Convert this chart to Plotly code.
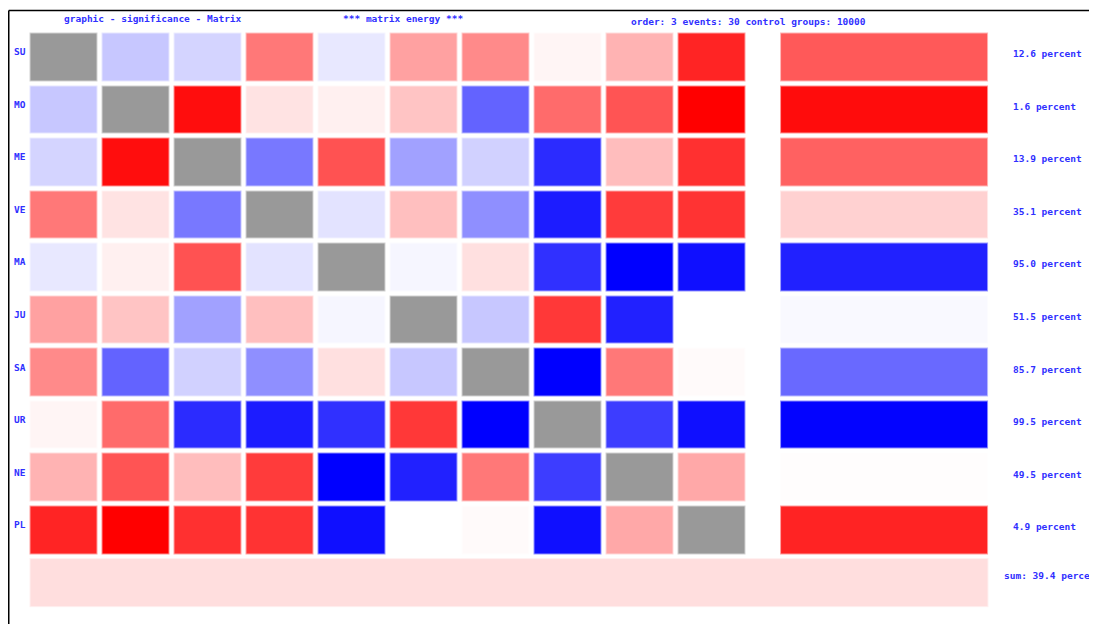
"""
Significance matrix of planet pairs, drawn as a red/white/blue heatmap
with a per-row summary bar and an overall sum bar.
"""

import plotly.graph_objects as go

# the page puts the figure 8 px in from the top-left corner,
# so the figure is 8 px smaller and all positions are 8 px less
OFF = 8
W, H = 1097 - OFF, 624 - OFF

planets = ["SU", "MO", "ME", "VE", "MA", "JU", "SA", "UR", "NE", "PL"]

# pair significance: -1 = strong red ... 0 = white ... +1 = strong blue, None = diagonal
sig = [
    [None, 0.22, 0.17, -0.53, 0.09, -0.37, -0.46, -0.04, -0.30, -0.86],
    [0.22, None, -0.95, -0.11, -0.06, -0.23, 0.61, -0.58, -0.67, -1.0],
    [0.17, -0.95, None, 0.53, -0.68, 0.37, 0.18, 0.83, -0.26, -0.81],
    [-0.53, -0.11, 0.53, None, 0.11, -0.25, 0.44, 0.89, -0.77, -0.80],
    [0.09, -0.06, -0.68, 0.11, None, 0.035, -0.12, 0.81, 1.0, 0.94],
    [-0.37, -0.23, 0.37, -0.25, 0.035, None, 0.22, -0.78, 0.87, 0.0],
    [-0.46, 0.61, 0.18, 0.44, -0.12, 0.22, None, 1.0, -0.53, -0.02],
    [-0.04, -0.58, 0.83, 0.89, 0.81, -0.78, 1.0, None, 0.76, 0.94],
    [-0.30, -0.67, -0.26, -0.77, 1.0, 0.87, -0.53, 0.76, None, -0.34],
    [-0.86, -1.0, -0.81, -0.80, 0.94, 0.0, -0.02, 0.94, -0.34, None],
]

row_percent = [12.6, 1.6, 13.9, 35.1, 95.0, 51.5, 85.7, 99.5, 49.5, 4.9]
sum_percent = 39.4

title_left = "graphic - significance - Matrix"
title_mid = "*** matrix energy ***"
title_right = "order: 3 events: 30 control groups: 10000"

# colour scales
sig_scale = [[0, "rgb(255,0,0)"], [0.5, "rgb(255,255,255)"], [1, "rgb(0,0,255)"]]
pct_scale = [
    [0.0, "rgb(255,0,0)"],
    [0.05, "rgb(255,36,36)"],
    [0.13, "rgb(255,92,92)"],
    [0.35, "rgb(255,209,209)"],
    [0.5, "rgb(255,255,255)"],
    [0.86, "rgb(104,104,255)"],
    [0.95, "rgb(33,33,255)"],
    [1.0, "rgb(0,0,255)"],
]
gray_scale = [[0, "#999999"], [1, "#999999"]]

TEXT = dict(family="DejaVu Sans Mono", size=9.5, color="#3030ff", weight="bold")

# geometry (column units of 72 px, row units of 52.56 px)
COL_PX, ROW_PX = 72.0, 52.56
X0_PX, Y0_PX = 63.5 - OFF, 56.75 - OFF
RIGHT_EDGES = [9.924, 12.868]
SUM_EDGES = [-0.5, 12.868]


def cells(z, x, y, scale, zmin, zmax):
    # a pale outer layer plus a solid inner layer gives each cell a light rim
    common = dict(z=z, x=x, y=y, colorscale=scale, zmin=zmin, zmax=zmax,
                  showscale=False, hoverinfo="skip")
    return [
        go.Heatmap(**common, xgap=4, ygap=4, opacity=0.45),
        go.Heatmap(**common, xgap=6, ygap=6, opacity=1.0),
    ]


def px(x):
    return (x - OFF) / W


def py(y):
    return 1 - (y - OFF) / H


idx = list(range(len(planets)))
diag = [[1 if i == j else None for j in idx] for i in idx]

fig = go.Figure()
for tr in cells(sig, idx, idx, sig_scale, -1, 1):
    fig.add_trace(tr)
for tr in cells(diag, idx, idx, gray_scale, 0, 1):
    fig.add_trace(tr)
for tr in cells([[p] for p in row_percent], RIGHT_EDGES, idx, pct_scale, 0, 100):
    fig.add_trace(tr)
for tr in cells([[sum_percent]], SUM_EDGES, [9.5, 10.5], pct_scale, 0, 100):
    fig.add_trace(tr)

annotations = []
for j, name in enumerate(planets):
    annotations.append(dict(text=name, xref="paper", x=px(12), yref="y", y=j,
                            xanchor="left", yanchor="middle", yshift=5,
                            showarrow=False, font=TEXT))
    annotations.append(dict(text=f"{row_percent[j]:.1f} percent", xref="paper",
                            x=px(1011), yref="y", y=j, xanchor="left",
                            yanchor="middle", yshift=3, showarrow=False, font=TEXT))
annotations.append(dict(text=f"sum: {sum_percent:.1f} percent", xref="paper",
                        x=px(1002), yref="y", y=10, xanchor="left",
                        yanchor="middle", yshift=7, showarrow=False, font=TEXT))
for txt, xp, yp in [(title_left, 62, 18), (title_mid, 341, 18), (title_right, 629, 22)]:
    annotations.append(dict(text=txt, xref="paper", x=px(xp), yref="paper",
                            y=py(yp), xanchor="left", yanchor="middle",
                            showarrow=False, font=TEXT))

fig.update_layout(
    width=W, height=H,
    margin=dict(l=0, r=0, t=0, b=0),
    paper_bgcolor="white", plot_bgcolor="white",
    xaxis=dict(visible=False, range=[-X0_PX / COL_PX, (W - X0_PX) / COL_PX],
               fixedrange=True),
    yaxis=dict(visible=False, range=[(H - Y0_PX) / ROW_PX, -Y0_PX / ROW_PX],
               fixedrange=True),
    annotations=annotations,
    shapes=[
        dict(type="line", xref="paper", yref="paper", x0=px(8.75), x1=1,
             y0=py(10.5), y1=py(10.5), line=dict(color="black", width=1.5)),
        dict(type="line", xref="paper", yref="paper", x0=px(8.75), x1=px(8.75),
             y0=py(10.5), y1=0, line=dict(color="black", width=1.5)),
    ],
    showlegend=False,
)

fig.write_html("out.html")
